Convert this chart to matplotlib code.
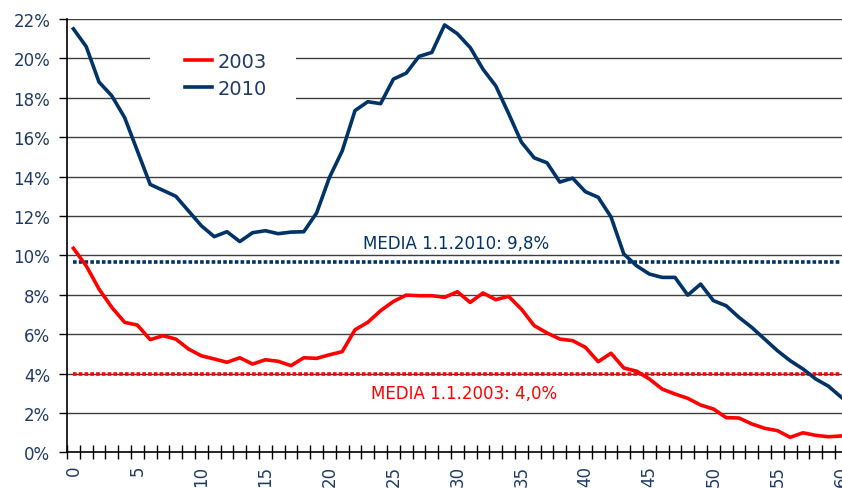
import matplotlib
matplotlib.use('Agg')
import matplotlib.pyplot as plt
from matplotlib.patches import Rectangle
from matplotlib.ticker import FixedLocator, FuncFormatter

# Datos (% por edad)
edades = list(range(0, 61))

serie_2010 = [21.5, 20.6, 18.8, 18.1, 17.0, 15.3, 13.6, 13.3, 13.0, 12.25,
              11.5, 10.95, 11.2, 10.7, 11.15, 11.25, 11.1, 11.18, 11.2, 12.15,
              13.95, 15.3, 17.35, 17.8, 17.7, 18.95, 19.25, 20.1, 20.3, 21.7,
              21.25, 20.55, 19.45, 18.6, 17.2, 15.75, 14.95, 14.7, 13.72, 13.92,
              13.23, 12.95, 11.95, 10.07, 9.47, 9.05, 8.88, 8.88, 7.98, 8.54,
              7.7, 7.44, 6.85, 6.34, 5.75, 5.16, 4.65, 4.23, 3.72, 3.35,
              2.79]

serie_2003 = [10.36, 9.47, 8.29, 7.36, 6.6, 6.46, 5.72, 5.92, 5.75, 5.24,
              4.9, 4.74, 4.57, 4.8, 4.48, 4.7, 4.62, 4.4, 4.8, 4.77,
              4.95, 5.11, 6.22, 6.6, 7.19, 7.66, 7.98, 7.95, 7.95, 7.87,
              8.15, 7.61, 8.09, 7.75, 7.92, 7.27, 6.43, 6.06, 5.75, 5.67,
              5.33, 4.6, 5.03, 4.28, 4.12, 3.72, 3.21, 2.96, 2.74, 2.4,
              2.2, 1.76, 1.74, 1.44, 1.22, 1.1, 0.76, 0.99, 0.86, 0.79,
              0.83]

media_2010 = 9.66
media_2003 = 3.99
etiqueta_2010 = 'MEDIA 1.1.2010: 9,8%'
etiqueta_2003 = 'MEDIA 1.1.2003: 4,0%'

AZUL = '#003366'
ROJO = '#FF0000'
TEXTO = '#1F3A64'

fig = plt.figure(figsize=(8.42, 4.89), dpi=100)
ax = fig.add_axes([67 / 842, 35.7 / 489, 61 * 12.8 / 842, 433.3 / 489])

# Rejilla horizontal
for v in range(2, 23, 2):
    ax.axhline(v, color='#404040', lw=1.0, zorder=1)

# Medias
ax.plot([0, 60], [media_2010, media_2010], color=AZUL, lw=2.6,
        linestyle=(0, (1, 0.6)), zorder=2)
ax.plot([0, 60], [media_2003, media_2003], color=ROJO, lw=2.6,
        linestyle=(0, (1, 0.6)), zorder=2)

# Series
ax.plot(edades, serie_2003, color=ROJO, lw=2.6, solid_joinstyle='round',
        label='2003', zorder=3)
ax.plot(edades, serie_2010, color=AZUL, lw=2.6, solid_joinstyle='round',
        label='2010', zorder=3)

ax.text(29.9, 10.62, etiqueta_2010, color=AZUL, fontsize=12,
        ha='center', va='center')
ax.text(30.55, 3.01, etiqueta_2003, color=ROJO, fontsize=12,
        ha='center', va='center')

ax.set_xlim(-0.5, 60.5)
ax.set_ylim(0, 22)

# Eje Y
ax.yaxis.set_major_locator(FixedLocator(range(0, 23, 2)))
ax.yaxis.set_major_formatter(FuncFormatter(lambda v, p: f'{int(v)}%'))
ax.tick_params(axis='y', which='major', direction='out', length=6,
               width=1, color='black', labelcolor=TEXTO, labelsize=12, pad=6)

# Eje X: marcas entre categorías, etiquetas cada 5
ax.xaxis.set_major_locator(FixedLocator(range(0, 61, 5)))
ax.xaxis.set_minor_locator(FixedLocator([k - 0.5 for k in range(0, 62)]))
ax.tick_params(axis='x', which='major', length=0, labelcolor=TEXTO,
               labelsize=12, labelrotation=90, pad=9)
ax.tick_params(axis='x', which='minor', direction='inout', length=10,
               width=1, color='black')

for s in ['top', 'right']:
    ax.spines[s].set_visible(False)
ax.spines['left'].set_color('black')
ax.spines['bottom'].set_color('black')
ax.spines['left'].set_linewidth(1.2)
ax.spines['bottom'].set_linewidth(1.2)

# Fondo blanco de la leyenda (tapa la rejilla)
ax.add_patch(Rectangle((0.1063, 0.788), 0.187, 0.189, transform=ax.transAxes,
                       facecolor='white', edgecolor='none', zorder=4))

leg = ax.legend(loc='upper left', bbox_to_anchor=(0.151, 0.924),
                fontsize=14, frameon=False,
                handlelength=1.4, handletextpad=0.3, labelspacing=0.4,
                borderpad=0, borderaxespad=0)
for t in leg.get_texts():
    t.set_color(TEXTO)
leg.set_zorder(5)

fig.savefig('out.png', dpi=100)
